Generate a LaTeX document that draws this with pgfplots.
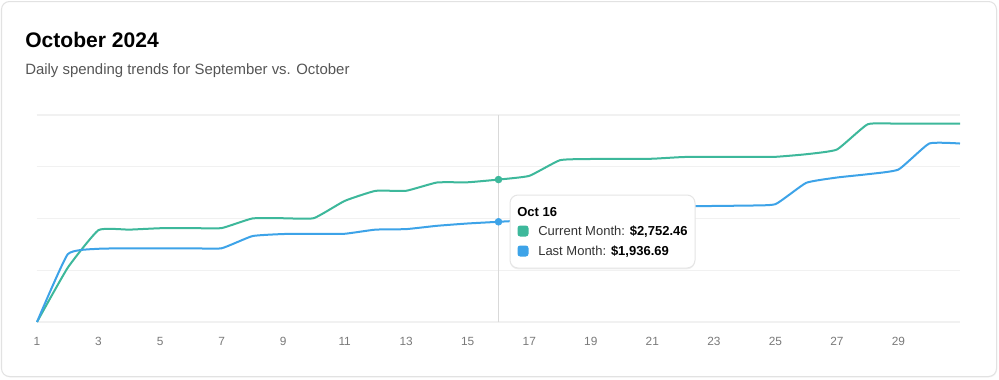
\documentclass[border=0pt]{standalone}
\usepackage{pgfplots}
\pgfplotsset{compat=1.18}
\usepackage{fontspec}
\setmainfont{Liberation Sans}
\usetikzlibrary{shadows}
\definecolor{cur}{HTML}{3DB89B}
\definecolor{last}{HTML}{3DA3E8}
\definecolor{gridc}{HTML}{F1F1F1}
\definecolor{tickc}{HTML}{7A7A7A}
\definecolor{subc}{HTML}{555555}
\definecolor{cardb}{HTML}{E2E2E2}

\pgfplotstableread{
day cur
1 0
2 1050
3 1776
4 1785
5 1812
6 1815
7 1815
8 2001
9 2005
10 2007
11 2340
12 2534
13 2536
14 2696
15 2700
16 2752.46
17 2824
18 3127
19 3150
20 3152
21 3155
22 3188
23 3190
24 3190
25 3192
26 3242
27 3333
28 3821
29 3832
30 3834
31 3834
}\curtable

\pgfplotstableread{
day last
1 0
2 1310
3 1415
4 1422
5 1425
6 1425
7 1425
8 1660
9 1700
10 1705
11 1705
12 1785
13 1795
14 1859
15 1904
16 1936.69
17 1975
18 2150
19 2215
20 2230
21 2239
22 2239
23 2242
24 2250
25 2277
26 2689
27 2792
28 2856
29 2946
30 3449
31 3449
}\lasttable

\begin{document}
\begin{tikzpicture}[x=0.75pt,y=0.75pt]
\useasboundingbox (0,0) rectangle (999,-379);
\fill[white] (0,0) rectangle (999,-379);
\filldraw[fill=white, draw=cardb, line width=0.75pt, rounded corners=6pt, drop shadow={opacity=0.08, shadow xshift=0.5pt, shadow yshift=-0.75pt}] (1.5,-1.5) rectangle (996.5,-376.5);
\node[anchor=base west, inner sep=0pt, font=\fontsize{15.8}{18}\selectfont\bfseries] at (25,-47) {October 2024};
\node[anchor=base west, inner sep=0pt, text=subc, font=\fontsize{11.2}{13}\selectfont] at (25,-74) {Daily spending trends for September vs. October};

\begin{axis}[
  at={(27.75pt,-241.5pt)}, anchor=south west,
  scale only axis, width=692.25pt, height=155.25pt,
  xmin=1, xmax=31, ymin=0, ymax=4000,
  axis line style={draw=none},
  xtick={1,3,...,29},
  ytick={0,1000,2000,3000,4000},
  yticklabels={},
  major tick length=0pt,
  ymajorgrids, grid style={gridc, line width=1pt},
  tick label style={text=tickc, font=\fontsize{8.9}{10}\selectfont},
  xticklabel style={anchor=base, inner sep=0pt, yshift=-17.25pt},
  /pgf/number format/assume math mode=true,
  clip=false,
]
\addplot[gray!30, line width=0.75pt] coordinates {(16,0) (16,4000)};
\addplot[cur, line width=1.5pt, smooth, tension=0.25] table[x=day, y=cur] {\curtable};
\addplot[last, line width=1.5pt, smooth, tension=0.25] table[x=day, y=last] {\lasttable};
\addplot[only marks, mark=*, mark size=2.6pt, cur] coordinates {(16,2752.46)};
\addplot[only marks, mark=*, mark size=2.6pt, last] coordinates {(16,1936.69)};
\end{axis}

\filldraw[fill=white, draw=black!10, line width=0.75pt, rounded corners=6pt, drop shadow={opacity=0.12, shadow xshift=0pt, shadow yshift=-1pt}] (510,-195) rectangle (695,-268);
\node[anchor=base west, inner sep=0pt, font=\fontsize{9.75}{11}\selectfont\bfseries] at (517,-216) {Oct 16};
\fill[cur, rounded corners=2pt] (517.5,-225.5) rectangle (528.5,-236.5);
\fill[last, rounded corners=2pt] (517.5,-245.5) rectangle (528.5,-256.5);
\node[anchor=base west, inner sep=0pt, font=\fontsize{9.75}{11}\selectfont, text=black!80] at (538,-235.5) {Current Month: \textbf{\color{black}\$2,752.46}};
\node[anchor=base west, inner sep=0pt, font=\fontsize{9.75}{11}\selectfont, text=black!80] at (538,-255.5) {Last Month: \textbf{\color{black}\$1,936.69}};
\end{tikzpicture}
\end{document}
